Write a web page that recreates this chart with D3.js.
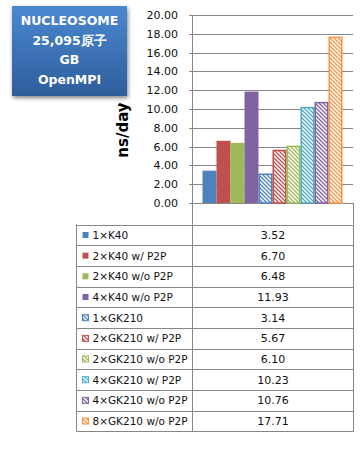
<!DOCTYPE html>
<html><head><meta charset="utf-8">
<script src="https://cdn.jsdelivr.net/npm/d3@7"></script>
<style>
html,body{margin:0;padding:0;background:#fff;}
svg{display:block;}
</style></head>
<body>
<svg id="c" width="364" height="452"></svg>
<script>
const series = ["1×K40","2×K40 w/ P2P","2×K40 w/o P2P","4×K40 w/o P2P","1×GK210","2×GK210 w/ P2P","2×GK210 w/o P2P","4×GK210 w/ P2P","4×GK210 w/o P2P","8×GK210 w/o P2P"];
const values = [3.52, 6.70, 6.48, 11.93, 3.14, 5.67, 6.10, 10.23, 10.76, 17.71];
const colors = ["#4F81BD","#C0504D","#9BBB59","#8064A2","#4F81BD","#C0504D","#9BBB59","#4BACC6","#8064A2","#F79646"];
const hatched = [false,false,false,false,true,true,true,true,true,true];
const yTicks = [0,2,4,6,8,10,12,14,16,18,20];
const titleLines = ["NUCLEOSOME","25,095原子","GB","OpenMPI"];
const yLabel = "ns/day";

const svg = d3.select("#c");
const defs = svg.append("defs");
const font = "'DejaVu Sans', Verdana, sans-serif";
const gridColor = "#868686";

// patterns
colors.forEach((c,i)=>{
  if(!hatched[i]) return;
  const p = defs.append("pattern").attr("id","h"+i).attr("patternUnits","userSpaceOnUse")
    .attr("width",4).attr("height",4);
  p.append("rect").attr("width",4).attr("height",4).attr("fill","#fff");
  p.append("path").attr("d","M-1,-1 L5,5 M-1,3 L1,5 M3,-1 L5,1")
    .attr("stroke",c).attr("stroke-width",1.3).attr("fill","none");
});

// title box
const grad = defs.append("linearGradient").attr("id","tg").attr("x1",0).attr("y1",0).attr("x2",0).attr("y2",1);
grad.append("stop").attr("offset","0%").attr("stop-color","#4B87D0");
grad.append("stop").attr("offset","100%").attr("stop-color","#2E5E9C");
const f = defs.append("filter").attr("id","sh").attr("x","-20%").attr("y","-20%").attr("width","150%").attr("height","150%");
f.append("feGaussianBlur").attr("in","SourceAlpha").attr("stdDeviation",2);
f.append("feOffset").attr("dx",1).attr("dy",2).attr("result","b");
f.append("feComponentTransfer").append("feFuncA").attr("type","linear").attr("slope",0.5);
const fm = f.append("feMerge"); fm.append("feMergeNode"); fm.append("feMergeNode").attr("in","SourceGraphic");

svg.append("rect").attr("x",12).attr("y",6).attr("width",115).attr("height",90)
  .attr("fill","url(#tg)").attr("filter","url(#sh)");
svg.append("g").selectAll("text").data(titleLines).join("text")
  .attr("x",69.5).attr("y",(d,i)=>25+i*19.5)
  .attr("text-anchor","middle").attr("fill","#fff")
  .attr("font-family",font).attr("font-weight","bold").attr("font-size",12.5)
  .text(d=>d);
svg.append("path").attr("d","M118,105 L123,106 L130,108").attr("stroke","#000").attr("stroke-width",1.5).attr("fill","none");

// scales
const plotL = 192, plotR = 353, plotT = 15, plotB = 203;
const y = d3.scaleLinear().domain([0,20]).range([plotB, plotT]);
const x = d3.scaleBand().domain(series).range([plotL, plotR]).paddingInner(0).paddingOuter(0.75);

// gridlines
svg.append("g").selectAll("line").data(yTicks).join("line")
  .attr("x1",plotL-3).attr("x2",plotR).attr("y1",d=>Math.round(y(d))+0.5).attr("y2",d=>Math.round(y(d))+0.5)
  .attr("stroke",gridColor).attr("stroke-width",1);

// y axis labels
svg.append("g").selectAll("text").data(yTicks).join("text")
  .attr("x",178).attr("y",d=>y(d)+4)
  .attr("text-anchor","end").attr("fill","#111")
  .attr("font-family",font).attr("font-size",11)
  .text(d=>d3.format(".2f")(d));

// y label
svg.append("text").attr("transform","translate(128,130) rotate(-90)")
  .attr("text-anchor","middle").attr("font-family",font).attr("font-weight","bold")
  .attr("font-size",15).attr("fill","#000").text(yLabel);

// bars
svg.append("g").selectAll("rect").data(values).join("rect")
  .attr("x",(d,i)=>x(series[i]) + (hatched[i]?0.75:0))
  .attr("y",d=>y(d) + 0.75)
  .attr("width",(d,i)=>x.bandwidth() - (hatched[i]?1.5:0))
  .attr("height",d=>plotB - y(d) - 0.75)
  .attr("fill",(d,i)=>hatched[i]?`url(#h${i})`:colors[i])
  .attr("stroke",(d,i)=>hatched[i]?colors[i]:"none")
  .attr("stroke-width",1.5);

// axes lines
svg.append("line").attr("x1",plotL+0.5).attr("x2",plotL+0.5).attr("y1",plotT).attr("y2",224.5).attr("stroke",gridColor);
svg.append("line").attr("x1",plotR+0.5).attr("x2",plotR+0.5).attr("y1",plotB).attr("y2",224.5).attr("stroke",gridColor);

// data table
const tL = 76.5, tM = plotL+0.5, tR = plotR+0.5, tT = 224.5, rowH = 20.67;
const rowY = d3.scaleLinear().domain([0, series.length]).range([tT, tT + rowH*series.length]);
const tg = svg.append("g");
tg.selectAll("line.h").data(d3.range(series.length+1)).join("line")
  .attr("x1",tL).attr("x2",tR).attr("y1",d=>Math.round(rowY(d))+0.5).attr("y2",d=>Math.round(rowY(d))+0.5)
  .attr("stroke",gridColor);
[tL,tM,tR].forEach(xx=>{
  tg.append("line").attr("x1",xx).attr("x2",xx).attr("y1",tT).attr("y2",Math.round(rowY(series.length))+0.5).attr("stroke",gridColor);
});
const rows = tg.selectAll("g.r").data(series).join("g");
rows.append("rect").attr("x",82.5).attr("y",(d,i)=>rowY(i)+7.5).attr("width",6).attr("height",6)
  .attr("fill",(d,i)=>hatched[i]?`url(#h${i})`:colors[i])
  .attr("stroke",(d,i)=>hatched[i]?colors[i]:"none").attr("stroke-width",1);
rows.append("text").attr("x",92.5).attr("y",(d,i)=>rowY(i)+14.5)
  .attr("font-family",font).attr("font-size",10.5).attr("fill","#111").text(d=>d);
rows.append("text").attr("x",(tM+tR)/2).attr("y",(d,i)=>rowY(i)+14.5)
  .attr("text-anchor","middle").attr("font-family",font).attr("font-size",11).attr("fill","#111")
  .text((d,i)=>d3.format(".2f")(values[i]));
</script>
</body></html>
